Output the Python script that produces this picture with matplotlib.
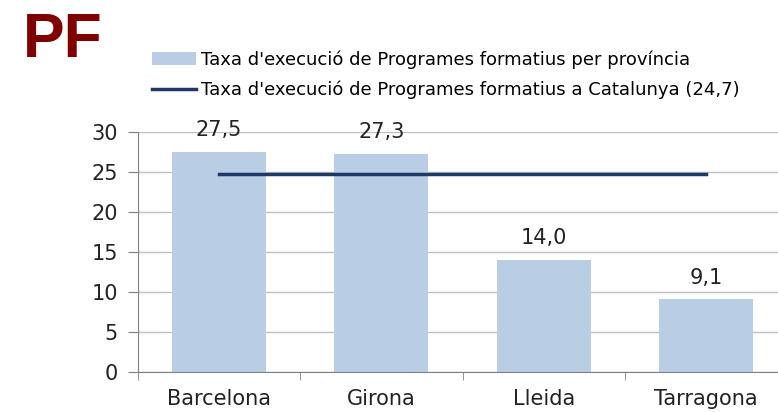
import matplotlib.pyplot as plt
import numpy as np

plt.rcParams['font.family'] = ['DejaVu Sans']

# dades
provincies = ['Barcelona', 'Girona', 'Lleida', 'Tarragona']
taxa = [27.5, 27.3, 14.0, 9.1]
taxa_catalunya = 24.7
etiquetes = ['27,5', '27,3', '14,0', '9,1']

fig = plt.figure(figsize=(7.78, 4.12), dpi=100)
W, H = 778, 412
# the original axes runs past the right edge of the picture
ax = fig.add_axes([137.5 / W, 1 - 372 / H, 650 / W, 240 / H])

x = np.arange(len(provincies))
barres = ax.bar(x, taxa, width=0.58, color='#b9cde5', zorder=2,
                label="Taxa d'execució de Programes formatius per província")
linia, = ax.plot([x[0], x[-1]], [taxa_catalunya, taxa_catalunya], color='#1f3864',
                 lw=2.5, zorder=3,
                 label="Taxa d'execució de Programes formatius a Catalunya (24,7)")

# etiquetes de dades
for xi, v, t in zip(x, taxa, etiquetes):
    ax.text(xi, v + 2.7, t, ha='center', va='center', fontsize=15, color='#222222', zorder=4)

ax.set_xlim(-0.5, len(provincies) - 0.5)
ax.set_ylim(0, 30)
ax.set_yticks(range(0, 31, 5))
ax.grid(axis='y', color='#bfbfbf', lw=1, zorder=0)
ax.set_xticks(x)
ax.set_xticklabels(provincies, fontsize=15, color='#222222')
ax.set_xticks(np.arange(-0.5, len(provincies)), minor=True)
ax.tick_params(axis='x', which='major', length=0, pad=12)
ax.tick_params(axis='x', which='minor', length=6, color='#808080')
ax.tick_params(axis='y', labelsize=15, labelcolor='#222222', length=7, color='#808080', pad=7)
for s in ['top', 'right']:
    ax.spines[s].set_visible(False)
for s in ['left', 'bottom']:
    ax.spines[s].set_color('#808080')

fig.legend(handles=[barres, linia], loc='upper left', bbox_to_anchor=(145 / W, 1 - 43 / H),
           frameon=False, fontsize=13, handlelength=2.4, handletextpad=0.3,
           labelspacing=0.65, borderaxespad=0)

fig.text(23 / W, 1 - 57 / H, 'PF', fontsize=45, fontweight='bold', color='#800000',
         ha='left', va='baseline', family='Liberation Sans')

fig.savefig('out.png', dpi=100)
